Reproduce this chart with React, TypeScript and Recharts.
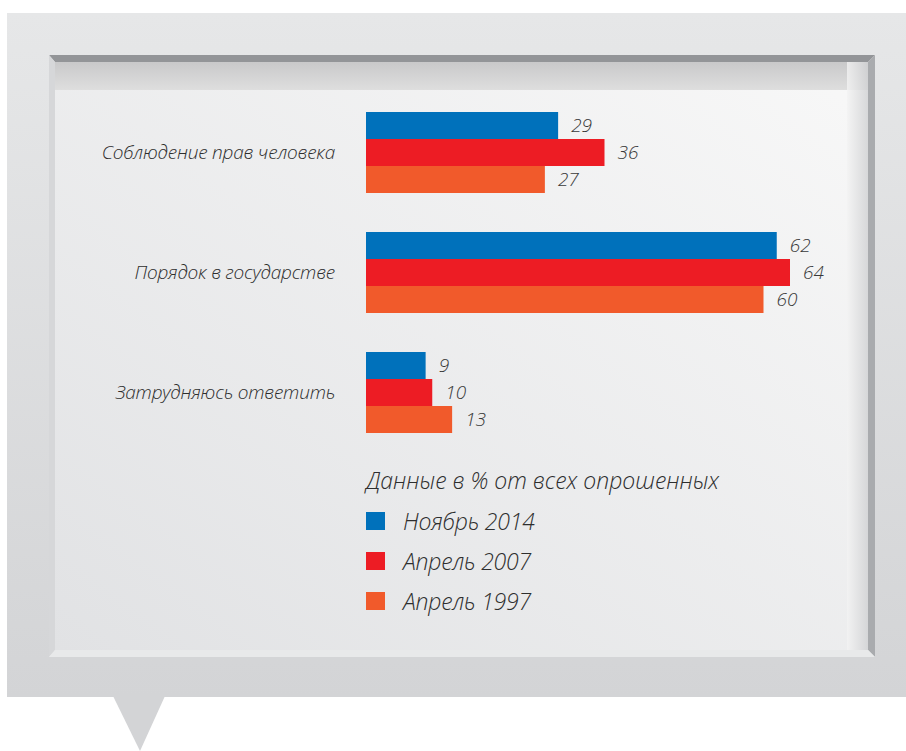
import React from 'react';
import { BarChart, Bar, XAxis, YAxis, Legend, LabelList } from 'recharts';

const categories = ['Соблюдение прав человека', 'Порядок в государстве', 'Затрудняюсь ответить'];
const nov2014 = [29, 62, 9];
const apr2007 = [36, 64, 10];
const apr1997 = [27, 60, 13];

const seriesNames = ['Ноябрь 2014', 'Апрель 2007', 'Апрель 1997'];
const seriesColors = ['#0071bb', '#ed1c24', '#f15a2b'];
const legendTitle = 'Данные в % от всех опрошенных';

const data = categories.map((name, i) => ({
    name,
    s0: nov2014[i],
    s1: apr2007[i],
    s2: apr1997[i],
}));

const FONT = '"Open Sans", "Noto Sans", sans-serif';

const LegendBox = ({ payload }: any) => {
    // recharts flips the order for vertical charts, put it back in series order
    const items = [...(payload || [])].sort(
        (a: any, b: any) => seriesNames.indexOf(a.value) - seriesNames.indexOf(b.value)
    );
    return (
        <div style={{ fontFamily: FONT, fontStyle: 'italic', fontWeight: 300, color: '#2e2e2e' }}>
            <div style={{ fontSize: 23, lineHeight: '26px', marginBottom: 8, letterSpacing: 0 }}>{legendTitle}</div>
            {items.map((p: any) => (
                <div key={p.value} style={{ display: 'flex', alignItems: 'center', height: 40 }}>
                    <span style={{ width: 19, height: 18, background: p.color, display: 'inline-block', marginRight: 18 }} />
                    <span style={{ fontSize: 23, letterSpacing: -0.2 }}>{p.value}</span>
                </div>
            ))}
        </div>
    );
};

const Frame = () => (
    <svg width={906} height={751} style={{ position: 'absolute', left: 0, top: 0 }}>
        <defs>
            <linearGradient id="outer" x1="0" y1="0" x2="0" y2="1">
                <stop offset="0" stopColor="#e6e7e8" />
                <stop offset="1" stopColor="#d3d4d6" />
            </linearGradient>
            <linearGradient id="inner" x1="0" y1="1" x2="1" y2="0">
                <stop offset="0" stopColor="#e1e2e4" />
                <stop offset="1" stopColor="#f8f8f8" />
            </linearGradient>
            <linearGradient id="shade" x1="0" y1="0" x2="0" y2="1">
                <stop offset="0" stopColor="#c9c9ca" />
                <stop offset="1" stopColor="#dedede" />
            </linearGradient>
            <linearGradient id="rshade" x1="0" y1="0" x2="1" y2="0">
                <stop offset="0" stopColor="#f3f3f3" />
                <stop offset="1" stopColor="#cfd0d2" />
            </linearGradient>
        </defs>
        <rect x={7} y={13} width={899} height={684} fill="url(#outer)" />
        <polygon points="113,696 165,696 140,751" fill="#d3d4d6" />
        <rect x={49} y={55} width={826} height={602} fill="#e4e5e7" />
        <rect x={55} y={62} width={813} height={588} fill="url(#inner)" />
        <rect x={55} y={62} width={813} height={28} fill="url(#shade)" />
        <rect x={847} y={62} width={21} height={588} fill="url(#rshade)" opacity={0.8} />
        <polygon points="49,55 875,55 868,62 55,62" fill="#939598" />
        <polygon points="49,55 55,62 55,650 49,657" fill="#d6d7d9" />
        <polygon points="875,55 868,62 868,650 875,657" fill="#a9abae" />
        <polygon points="49,657 55,650 868,650 875,657" fill="#e8e9ea" />
    </svg>
);

export default function App() {
    return (
        <div style={{ position: 'absolute', left: 0, top: 0, width: 906, height: 751, background: '#fff' }}>
            <Frame />
            <div style={{ position: 'absolute', left: 0, top: 0 }}>
                <BarChart
                    width={906}
                    height={751}
                    data={data}
                    layout="vertical"
                    margin={{ top: 92, right: 10, bottom: 299, left: 0 }}
                    barCategoryGap={20}
                    barGap={0}
                >
                    <XAxis type="number" domain={[0, 80]} hide />
                    <YAxis
                        type="category"
                        dataKey="name"
                        width={366}
                        axisLine={false}
                        tickLine={false}
                        tickSize={0}
                        tickMargin={31}
                        tick={{ fill: '#2e2e2e', fontSize: 19, fontStyle: 'italic', fontWeight: 300, fontFamily: FONT, letterSpacing: -0.2 }}
                    />
                    <Legend
                        layout="vertical"
                        align="center"
                        verticalAlign="middle"
                        content={<LegendBox />}
                        wrapperStyle={{ left: 366, top: 467, width: 480 }}
                    />
                    {seriesNames.map((s, i) => (
                        <Bar key={s} dataKey={`s${i}`} name={s} fill={seriesColors[i]} isAnimationActive={false}>
                            <LabelList
                                dataKey={`s${i}`}
                                position="right"
                                offset={13}
                                fill="#3a3a3a"
                                fontSize={19}
                                fontStyle="italic"
                                fontWeight={300}
                                fontFamily={FONT}
                            />
                        </Bar>
                    ))}
                </BarChart>
            </div>
        </div>
    );
}
